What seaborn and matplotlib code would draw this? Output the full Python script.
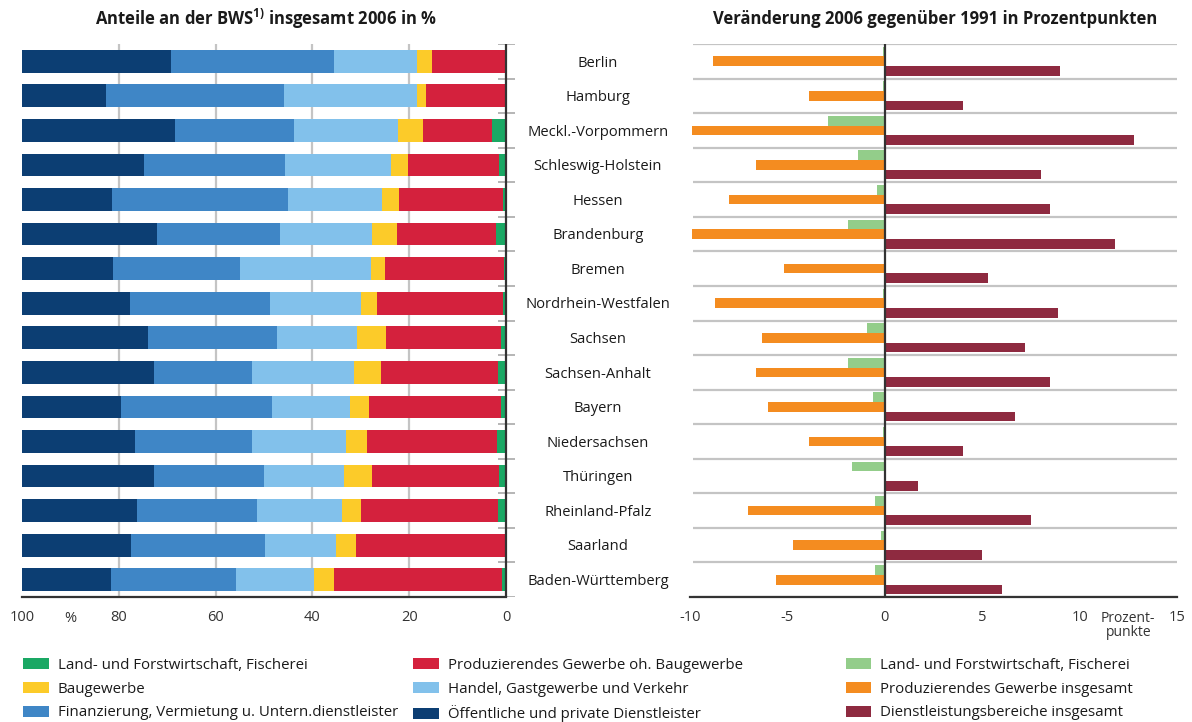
import matplotlib
matplotlib.use("Agg")
import matplotlib.pyplot as plt
import matplotlib.transforms as mtransforms
from matplotlib.patches import Patch
import numpy as np
import pandas as pd
import seaborn as sns


# --------------------------------------------------
# Data
# --------------------------------------------------

states = [
    "Berlin", "Hamburg", "Meckl.-Vorpommern", "Schleswig-Holstein",
    "Hessen", "Brandenburg", "Bremen", "Nordrhein-Westfalen",
    "Sachsen", "Sachsen-Anhalt", "Bayern", "Niedersachsen",
    "Thüringen", "Rheinland-Pfalz", "Saarland", "Baden-Württemberg",
]

# shares 2006 in %, in order from the 0 axis outwards
land_2006 = [0.1, 0.1, 2.9, 1.4, 0.6, 2.1, 0.4, 0.6, 1.0, 1.7, 1.0, 1.9, 1.4, 1.7, 0.2, 0.8]
prod_2006 = [15.2, 16.4, 14.3, 18.8, 21.5, 20.4, 24.6, 26.1, 23.8, 24.1, 27.3, 26.8, 26.3, 28.3, 30.8, 34.7]
bau_2006 = [3.1, 1.9, 5.2, 3.6, 3.5, 5.2, 2.9, 3.3, 6.0, 5.6, 3.9, 4.4, 5.8, 3.9, 4.1, 4.2]
handel_2006 = [17.1, 27.5, 21.3, 21.9, 19.4, 19.0, 27.1, 18.8, 16.5, 21.1, 16.1, 19.4, 16.5, 17.5, 14.7, 16.1]
finanz_2006 = [33.7, 36.7, 24.6, 29.1, 36.4, 25.4, 26.2, 28.9, 26.7, 20.2, 31.2, 24.2, 22.7, 24.8, 27.7, 25.8]
oeff_2006 = [30.8, 17.4, 31.8, 25.2, 18.6, 27.9, 18.8, 22.3, 26.0, 27.3, 20.5, 23.3, 27.3, 23.8, 22.5, 18.4]

# change 2006 vs 1991 in percentage points
land_chg = [-0.1, -0.1, -2.9, -1.4, -0.4, -1.9, 0.0, -0.1, -0.9, -1.9, -0.6, -0.1, -1.7, -0.5, -0.2, -0.5]
prod_chg = [-8.8, -3.9, -9.9, -6.6, -8.0, -9.9, -5.2, -8.7, -6.3, -6.6, -6.0, -3.9, 0.0, -7.0, -4.7, -5.6]
dienst_chg = [9.0, 4.0, 12.8, 8.0, 8.5, 11.8, 5.3, 8.9, 7.2, 8.5, 6.7, 4.0, 1.7, 7.5, 5.0, 6.0]

left_labels = [
    "Land- und Forstwirtschaft, Fischerei",
    "Produzierendes Gewerbe oh. Baugewerbe",
    "Baugewerbe",
    "Handel, Gastgewerbe und Verkehr",
    "Finanzierung, Vermietung u. Untern.dienstleister",
    "Öffentliche und private Dienstleister",
]
left_colors = ["#1aa864", "#d4213d", "#fccb29", "#82c1eb", "#3f86c6", "#0c3e73"]

right_labels = [
    "Land- und Forstwirtschaft, Fischerei ",
    "Produzierendes Gewerbe insgesamt",
    "Dienstleistungsbereiche insgesamt",
]
right_colors = ["#93cd8a", "#f48c20", "#8e2a40"]


# --------------------------------------------------
# Style
# --------------------------------------------------

sns.set_style("white")
plt.rcParams["font.family"] = ["Open Sans", "DejaVu Sans"]
plt.rcParams["mathtext.fontset"] = "custom"
plt.rcParams["mathtext.rm"] = "Open Sans"
plt.rcParams["mathtext.bf"] = "Open Sans:bold"
plt.rcParams["axes.unicode_minus"] = False

text_color = "#1a1a1a"
axis_color = "#333333"
grid_color = "#c4c4c4"

fig = plt.figure(figsize=(11.92, 7.22), dpi=100)

ax_l = fig.add_axes([22 / 1192, 1 - 597 / 722, 493 / 1192, 553 / 722])
ax_r = fig.add_axes([690 / 1192, 1 - 597 / 722, 487 / 1192, 553 / 722])


# --------------------------------------------------
# Left: stacked shares
# --------------------------------------------------

shares = pd.DataFrame(
    {
        "Land": states,
        left_labels[0]: land_2006,
        left_labels[1]: prod_2006,
        left_labels[2]: bau_2006,
        left_labels[3]: handel_2006,
        left_labels[4]: finanz_2006,
        left_labels[5]: oeff_2006,
    }
)
cumulative = shares[left_labels].cumsum(axis=1)

ax_l.vlines([20, 40, 60, 80], -0.5, 15.5, color=grid_color, lw=1.6, zorder=0)

# draw the longest (outermost) segment first, shorter ones on top
for label, color in reversed(list(zip(left_labels, left_colors))):
    sns.barplot(
        x=cumulative[label],
        y=shares["Land"],
        orient="h",
        order=states,
        color=color,
        saturation=1,
        width=0.66,
        linewidth=0,
        errorbar=None,
        ax=ax_l,
        zorder=2,
    )

ax_l.axvline(0, color=axis_color, lw=1.6, zorder=4)
ax_l.hlines(np.arange(-0.5, 16), 1.6, -1.86, color="#b5b5b5", lw=1.4, zorder=1)

ax_l.set_xlim(100, -1.86)
ax_l.set_ylim(15.5, -0.5)
ax_l.set_xticks([100, 80, 60, 40, 20, 0])
ax_l.set_yticks([])
ax_l.set_xlabel("")
ax_l.set_ylabel("")
ax_l.text(90, -0.038, "%", transform=ax_l.get_xaxis_transform(),
          ha="center", va="center", fontsize=10.5, color=axis_color)


# --------------------------------------------------
# Right: change in percentage points
# --------------------------------------------------

changes = pd.DataFrame(
    {
        "Land": states * 3,
        "Serie": [right_labels[0]] * 16 + [right_labels[1]] * 16 + [right_labels[2]] * 16,
        "Wert": land_chg + prod_chg + dienst_chg,
    }
)

ax_r.hlines(np.arange(-0.5, 16), -9.85, 15, color=grid_color, lw=1.6, zorder=0)

sns.barplot(
    data=changes,
    x="Wert",
    y="Land",
    hue="Serie",
    orient="h",
    order=states,
    hue_order=right_labels,
    palette=right_colors,
    saturation=1,
    width=0.84,
    linewidth=0,
    errorbar=None,
    legend=False,
    ax=ax_r,
    zorder=2,
)

ax_r.axvline(0, color=axis_color, lw=1.6, zorder=4)
ax_r.set_xlim(-10, 15)
ax_r.set_ylim(15.5, -0.5)
ax_r.set_xticks([-10, -5, 0, 5, 10, 15])
ax_r.set_yticks([])
ax_r.set_xlabel("")
ax_r.set_ylabel("")
ax_r.text(12.5, -0.052, "Prozent-\npunkte", transform=ax_r.get_xaxis_transform(),
          ha="center", va="center", fontsize=10, color=axis_color, linespacing=0.9)


# --------------------------------------------------
# Common axis styling
# --------------------------------------------------

for ax in (ax_l, ax_r):
    for side in ("top", "left", "right"):
        ax.spines[side].set_visible(False)
    ax.spines["bottom"].set_color(axis_color)
    ax.spines["bottom"].set_linewidth(1.6)
    ax.tick_params(axis="x", direction="inout", length=11, width=1.4,
                   color=axis_color, labelsize=10.5, labelcolor=axis_color, pad=4)

ax_l.spines["bottom"].set_bounds(0, 100)

# state names in the middle
label_trans = mtransforms.blended_transform_factory(fig.transFigure, ax_l.transData)
for i, state in enumerate(states):
    fig.text(598 / 1192, i + 0.05, state, transform=label_trans, ha="center", va="center",
             fontsize=10.6, color=text_color)


# --------------------------------------------------
# Titles
# --------------------------------------------------

fig.text(266 / 1192, 1 - 19 / 722, r"Anteile an der BWS$^{\mathbf{1)}}$ insgesamt 2006 in %",
         ha="center", va="center", fontsize=12, fontweight="bold", color=text_color)
fig.text(935 / 1192, 1 - 19 / 722, "Veränderung 2006 gegenüber 1991 in Prozentpunkten",
         ha="center", va="center", fontsize=12, fontweight="bold", color=text_color)


# --------------------------------------------------
# Legends
# --------------------------------------------------

columns = [
    ([0, 2, 4], left_labels, left_colors, 23),
    ([1, 3, 5], left_labels, left_colors, 413),
    ([0, 1, 2], right_labels, right_colors, 846),
]
for idx, labels, colors, x_px in columns:
    handles = [Patch(facecolor=colors[i], edgecolor="none") for i in idx]
    fig.legend(
        handles,
        [labels[i].strip() for i in idx],
        loc="upper left",
        bbox_to_anchor=(x_px / 1192, 1 - 658 / 722),
        frameon=False,
        borderpad=0,
        borderaxespad=0,
        handlelength=1.7,
        handleheight=0.75,
        handletextpad=0.6,
        labelspacing=0.58,
        fontsize=10.8,
        labelcolor=text_color,
    )

fig.savefig("out.png", dpi=100)
plt.close(fig)
